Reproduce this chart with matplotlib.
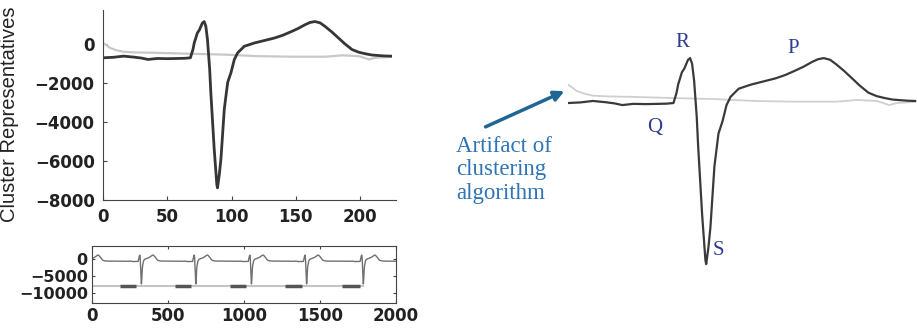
import numpy as np
import matplotlib
matplotlib.use('Agg')
import matplotlib.pyplot as plt

# representative beat (dark)
rep_x = [0, 8, 16, 24, 30, 35, 42, 50, 58, 64, 68, 70, 71, 73.4, 75, 77.3, 78.7, 80, 81.3, 83, 83.9,
         86.5, 88.6, 89.1, 90.5, 91.8, 94.4, 97, 99.6, 102.2, 104.8, 110, 117.9, 125, 133.6, 140,
         146.7, 152, 157, 161, 164.9, 169, 172.8, 178, 183.2, 188, 193.7, 199, 204.2, 209, 214.7, 219, 223.8]
rep_y = [-725, -700, -640, -690, -740, -810, -760, -770, -760, -750, -725, -300, 35, 540, 700, 1050, 1130, 900, 200, -1300, -2500,
         -5360, -7220, -7380, -6700, -5870, -3340, -1990, -1480, -810, -470, -135, 35, 150, 290, 430,
         620, 780, 960, 1080, 1130, 1060, 880, 600, 290, 0, -300, -440, -520, -580, -610, -630, -640]

# second cluster (light grey) representative
gray_x = [0, 3, 5.5, 10, 16, 25, 41, 68, 94, 120, 147, 173, 186, 193, 199, 203, 207, 212, 218, 224]
gray_y = [35, -100, -220, -330, -420, -450, -470, -520, -560, -640, -670, -670, -600, -620, -640, -720, -810, -725, -700, -680]

# long recording (bottom): S positions of the beats
spike_pos = [-36, 325, 683, 1049, 1412, 1785]
s_index = 89
tail_x, tail_y = 2000, -700

# cluster label bar at -8000
bar_level = -8000
bar_span = [13, 1785]
dark_segments = [(182, 292), (544, 654), (907, 1016), (1269, 1379), (1642, 1763)]

fig = plt.figure(figsize=(9.17, 3.3), dpi=100)

# ---- top left: cluster representatives
ax1 = fig.add_axes([103/917, 1-200/330, 293/917, 190/330])
ax1.plot(gray_x, gray_y, color='#c8c8c8', lw=1.6)
ax1.plot(rep_x, rep_y, color='#363636', lw=2.0)
ax1.set_xlim(0, 228)
ax1.set_ylim(-8000, 1720)
ax1.set_xticks([0, 50, 100, 150, 200])
ax1.set_yticks([0, -2000, -4000, -6000, -8000])
ax1.spines['top'].set_visible(False)
ax1.spines['right'].set_visible(False)
for s in ['left', 'bottom']:
    ax1.spines[s].set_color('#444444')
ax1.tick_params(direction='in', length=3, color='#444444', pad=6)
for lab in ax1.get_xticklabels() + ax1.get_yticklabels():
    lab.set_fontfamily('DejaVu Sans')
    lab.set_fontsize(12)
    lab.set_fontweight('semibold')
    lab.set_color('#222222')
ax1.set_ylabel('Cluster Representatives', fontsize=14.5, family='Liberation Sans', color='#222222')
ax1.yaxis.set_label_coords(-0.285, 0.45)

# ---- bottom left: long signal
ax2 = fig.add_axes([92/917, 27/330, 304/917, 57/330])
long_x, long_y = [], []
for s in spike_pos:
    for xi, yi in zip(rep_x, rep_y):
        long_x.append(s - s_index + xi)
        long_y.append(yi)
long_x.append(tail_x)
long_y.append(tail_y)
ax2.plot(long_x, long_y, color='#707070', lw=1.0)
ax2.plot(bar_span, [bar_level, bar_level], color='#c4c4c4', lw=1.5)
for a, b in dark_segments:
    ax2.plot([a, b], [bar_level, bar_level], color='#555555', lw=2.5, solid_capstyle='butt')
ax2.set_xlim(0, 2000)
ax2.set_ylim(-13000, 3800)
ax2.set_xticks([0, 500, 1000, 1500, 2000])
ax2.set_yticks([0, -5000, -10000])
ax2.tick_params(direction='in', length=2.5, top=True, right=True, color='#444444', pad=3)
for s in ax2.spines.values():
    s.set_color('#444444')
for lab in ax2.get_yticklabels():
    lab.set_fontfamily('DejaVu Sans')
    lab.set_fontsize(11.5)
    lab.set_fontweight('semibold')
    lab.set_color('#222222')
for lab in ax2.get_xticklabels():
    lab.set_fontfamily('DejaVu Sans')
    lab.set_fontsize(12)
    lab.set_fontweight('semibold')
    lab.set_color('#222222')

# ---- right: annotated enlarged beat
ax3 = fig.add_axes([568/917, 0, 349/917, 1])
ax3.plot(gray_x, gray_y, color='#cfcfcf', lw=1.3)
ax3.plot(rep_x, rep_y, color='#3a3a3a', lw=1.6)
ax3.set_xlim(0, 225)
ax3.set_ylim(-10100, 3530)
ax3.axis('off')

lab_color = '#2c3b91'
serif = 'Liberation Serif'
ax3.text(73.5, 1754, 'R', color=lab_color, family=serif, fontsize=15, ha='center', va='center')
ax3.text(145, 1547, 'P', color=lab_color, family=serif, fontsize=15, ha='center', va='center')
ax3.text(56, -1716, 'Q', color=lab_color, family=serif, fontsize=15, ha='center', va='center')
ax3.text(96.8, -6796, 'S', color=lab_color, family=serif, fontsize=15, ha='center', va='center')

fig.text(456/917, 1-136/330, 'Artifact of\nclustering\nalgorithm', color='#2f75b5',
         family=serif, fontsize=16.5, ha='left', va='top', linespacing=1.15)
fig.add_artist(matplotlib.patches.FancyArrowPatch(
    (483/917, 1-128/330), (567/917, 1-90/330), transform=fig.transFigure,
    arrowstyle='-|>,head_length=6,head_width=3', color='#1f6694', lw=2.5))

fig.savefig('out.png', dpi=100)
